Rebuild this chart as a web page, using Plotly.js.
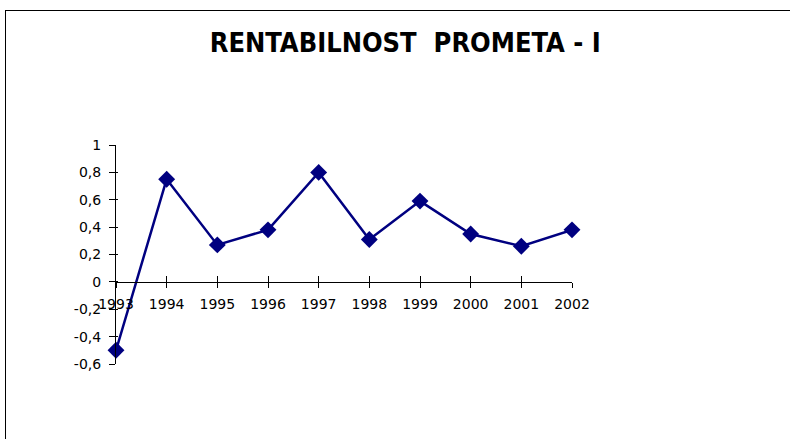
<!DOCTYPE html>
<html><head><meta charset="utf-8">
<script src="https://cdn.plot.ly/plotly-3.0.1.min.js"></script>
<style>
html,body{margin:0;padding:0;background:#fff;}
#frame{position:absolute;left:5px;top:10px;width:800px;height:500px;border:1px solid #000;box-sizing:border-box;}
#chart{position:absolute;left:0;top:0;width:790px;height:439px;}
</style></head>
<body>
<div id="frame"></div>
<div id="chart"></div>
<script>
const years = [1993,1994,1995,1996,1997,1998,1999,2000,2001,2002];
const values = [-0.5,0.75,0.27,0.38,0.8,0.31,0.59,0.35,0.26,0.38];
const yTickVals = [-0.6,-0.4,-0.2,0,0.2,0.4,0.6,0.8,1];
const yTickText = ['-0,6','-0,4','-0,2','0','0,2','0,4','0,6','0,8','1'];
const titleText = 'RENTABILNOST\u00a0\u00a0PROMETA - I';

const font = {family:'DejaVu Sans, Verdana, sans-serif', size:14, color:'#000'};
const trace = {
  x: years, y: values, type:'scatter', mode:'lines+markers',
  line:{color:'#000080', width:2.5},
  marker:{symbol:'diamond', size:13, color:'#000080'},
  hoverinfo:'skip', cliponaxis:false
};
const layout = {
  width:790, height:439,
  margin:{l:116, r:218, t:145, b:75},
  paper_bgcolor:'rgba(0,0,0,0)', plot_bgcolor:'rgba(0,0,0,0)',
  showlegend:false,
  font: font,
  title:{text:titleText, x:0.513, xanchor:'center', y:0.902, yanchor:'middle', xref:'container', yref:'container',
         font:{family:'DejaVu Sans Condensed, DejaVu Sans, sans-serif', size:27, color:'#000', weight:'bold'}},
  xaxis:{range:[1993,2002], anchor:'free', position:0.375, showline:true, linecolor:'#000', linewidth:1,
         ticks:'outside', ticklen:5, tickcolor:'#000', tickvals:years, ticktext:years.map(String),
         ticklabelstandoff:4,
         showgrid:false, zeroline:false, tickfont:font, fixedrange:true},
  xaxis2:{range:[1993,2002], overlaying:'x', anchor:'free', position:0.375, showline:false,
         ticks:'inside', ticklen:6, tickcolor:'#000', tickvals:years, showticklabels:false,
         showgrid:false, zeroline:false},
  yaxis:{range:[-0.6,1], showline:true, linecolor:'#000', linewidth:1, ticks:'outside', ticklen:6,
         tickcolor:'#000', tickvals:yTickVals, ticktext:yTickText, showgrid:false, zeroline:false,
         ticklabelstandoff:5,
         tickfont:font, fixedrange:true},
  yaxis2:{range:[-0.6,1], overlaying:'y', anchor:'x', side:'left', ticks:'inside', ticklen:2,
         tickcolor:'#000', tickvals:yTickVals, showticklabels:false, showgrid:false, zeroline:false, showline:false}
};
const dummy = {x:[years[0]], y:[values[0]], xaxis:'x2', yaxis:'y2', type:'scatter', mode:'markers',
  marker:{opacity:0}, hoverinfo:'skip', showlegend:false};
Plotly.newPlot('chart', [dummy, trace], layout, {staticPlot:true, displayModeBar:false});
</script>
</body></html>
